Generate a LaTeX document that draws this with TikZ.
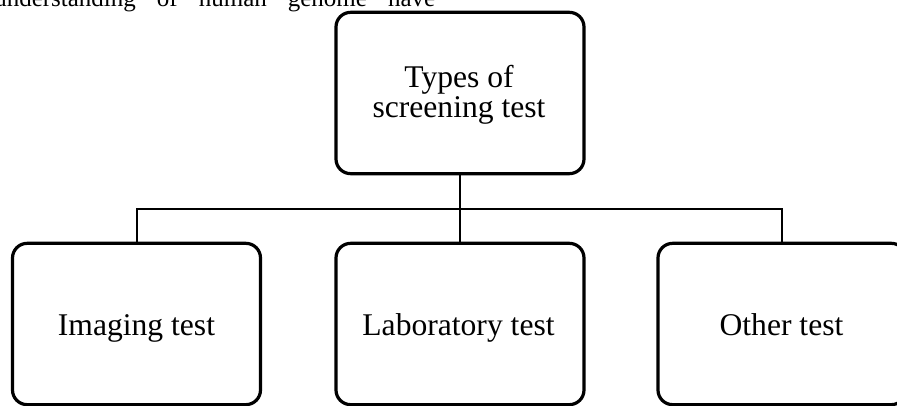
\documentclass[tikz,border=0pt]{standalone}
\usepackage{fontspec}
\setmainfont{Liberation Serif}
\begin{document}
\begin{tikzpicture}[x=0.75pt,y=-0.75pt,
  box/.style={draw, line width=2.4pt, rounded corners=11pt, minimum width=186pt, minimum height=121pt, inner sep=0pt},
  lbl/.style={font=\fontsize{23.7}{22.8}\selectfont, align=center, inner sep=0pt},
  para/.style={font=\fontsize{18.75}{20}\selectfont, inner sep=0pt},
  conn/.style={line width=1.5pt}]
\useasboundingbox (0,0) rectangle (897,406);
\begin{scope}
\clip (0,0) rectangle (897,406);
% running text cut at the top
\node[para, anchor=base west] (para) at (-6,6.5) {\makebox[330.75pt][s]{understanding of human genome have}};
% boxes
\node[box] (top) at (460,93) {};
\node[box] (img) at (136.5,324) {};
\node[box] (lab) at (460,324) {};
\node[box] (oth) at (782,324) {};
% labels
\node[lbl] (topt) at (459,94.6) {Types of\\screening test};
\node[lbl, anchor=base] (imgt) at (136.5,335) {Imaging test};
\node[lbl, anchor=base] (labt) at (458.5,335) {Laboratory test};
\node[lbl, anchor=base] (otht) at (781.5,335) {Other test};
% connectors
\coordinate (bus) at (460,209);
\draw[conn] (top.south) -- (bus);
\draw[conn] (img.north) |- (bus);
\draw[conn] (oth.north) |- (bus);
\draw[conn] (lab.north) -- (bus);
\end{scope}
\end{tikzpicture}
\end{document}
